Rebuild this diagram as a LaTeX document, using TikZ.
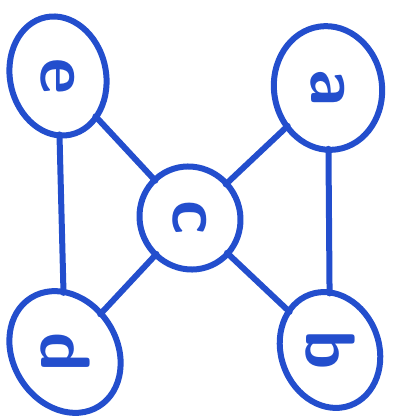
\documentclass[tikz,border=0pt]{standalone}
\usetikzlibrary{shapes.geometric}
\definecolor{inkblue}{RGB}{35,78,205}

\begin{document}
\begin{tikzpicture}[x=1pt,y=-1pt,
    vertex/.style={ellipse,draw=inkblue,line width=6pt,inner sep=0pt,text=inkblue,
      font=\fontsize{70}{70}\sffamily\bfseries},
    link/.style={draw=inkblue,line width=6pt,line cap=round,shorten <=-4pt,shorten >=-4pt}]
  \useasboundingbox (0,0) rectangle (392,417);
  \node[vertex,minimum width=96pt,minimum height=120pt,rotate=12] (e) at (58,76) {\rotatebox{-102}{e}};
  \node[vertex,minimum width=108pt,minimum height=124pt,rotate=8] (a) at (328,88) {\rotatebox{-98}{a}};
  \node[vertex,minimum width=100pt,minimum height=104pt,rotate=30] (c) at (190,218) {\rotatebox{-120}{c}};
  \node[vertex,minimum width=104pt,minimum height=128pt,rotate=32] (d) at (65,352) {\rotatebox{-122}{d}};
  \node[vertex,minimum width=98pt,minimum height=118pt,rotate=20] (b) at (330,350) {\rotatebox{-110}{b}};
  \draw[link] (e) -- (c);
  \draw[link] (a) -- (c);
  \draw[link] (c) -- (d);
  \draw[link] (c) -- (b);
  \draw[link] (e) -- (d);
  \draw[link] (a) -- (b);
\end{tikzpicture}
\end{document}
